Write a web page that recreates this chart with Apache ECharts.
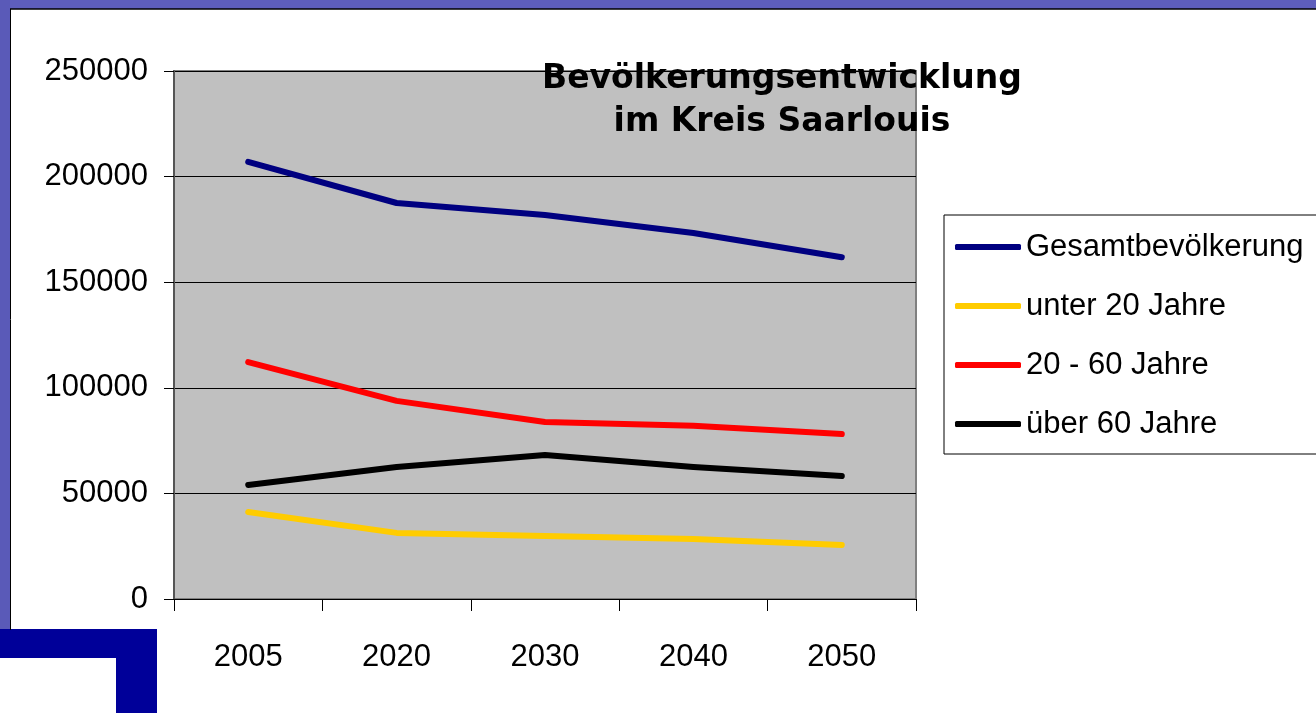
<!DOCTYPE html>
<html><head><meta charset="utf-8">
<script src="https://cdn.jsdelivr.net/npm/echarts@6/dist/echarts.min.js"></script>
<style>html,body{margin:0;padding:0;background:#fff;}#c{width:1316px;height:713px;}</style>
</head><body><div id="c"></div>
<script>
const categories = ['2005','2020','2030','2040','2050'];
const gesamt = [207000, 187500, 181800, 173300, 161800];
const unter20 = [41200, 31300, 29800, 28400, 25600];
const mitte = [112200, 93800, 83800, 82000, 78100];
const ueber60 = [54000, 62500, 68200, 62500, 58200];
const seriesNames = ['Gesamtbevölkerung','unter 20 Jahre','20 - 60 Jahre','über 60 Jahre'];
const colors = ['#000080','#FFCC00','#FF0000','#000000'];
const yTicks = [0, 50000, 100000, 150000, 200000, 250000];

const chart = echarts.init(document.getElementById('c'));
const mk = (name, data, color) => ({
  name, type: 'line', data, symbol: 'none', smooth: false,
  lineStyle: {color, width: 6, cap: 'round', join: 'round'},
  itemStyle: {color}, z: 5
});
chart.setOption({
  animation: false,
  backgroundColor: '#ffffff',
  graphic: [
    {type:'rect', z:-10, shape:{x:0,y:0,width:1316,height:9}, style:{fill:'#5e5ebd'}},
    {type:'rect', z:-10, shape:{x:0,y:0,width:10,height:630}, style:{fill:'#5a5ab8'}},
    {type:'line', z:-9, shape:{x1:10,y1:9,x2:1316,y2:9}, style:{stroke:'#000',lineWidth:1.5}},
    {type:'line', z:-9, shape:{x1:10.5,y1:9,x2:10.5,y2:630}, style:{stroke:'#000',lineWidth:1}},
    {type:'rect', z:-10, shape:{x:0,y:629,width:157,height:29}, style:{fill:'#000099'}},
    {type:'rect', z:-10, shape:{x:116,y:629,width:41,height:84}, style:{fill:'#000099'}}
  ],
  title: {
    text: 'Bevölkerungsentwicklung\nim Kreis Saarlouis',
    left: 777, top: 53, textAlign: 'center',
    textStyle: {fontFamily: 'DejaVu Sans', fontWeight: 'bold', fontSize: 33, color: '#000', lineHeight: 43}
  },
  legend: {
    orient: 'vertical', left: 944, top: 215,
    padding: [14, 40, 12, 11], itemGap: 23,
    itemWidth: 66, itemHeight: 6,
    borderColor: '#000', borderWidth: 1, backgroundColor: '#fff',
    icon: 'roundRect',
    textStyle: {fontFamily: 'Liberation Sans', fontSize: 31, color: '#000', lineHeight: 36},
    data: seriesNames
  },
  grid: {left: 174, top: 71, width: 742, height: 528, show: true, backgroundColor: '#c0c0c0', borderColor: '#808080', borderWidth: 2},
  xAxis: {
    type: 'category', data: categories, boundaryGap: true,
    axisLine: {lineStyle: {color: '#000', width: 1}},
    axisTick: {show: true, length: 12, lineStyle: {color: '#000'}},
    axisLabel: {fontFamily: 'Liberation Sans', fontSize: 31, color: '#000', margin: 43}
  },
  yAxis: {
    type: 'value', min: 0, max: 250000, interval: 50000,
    axisLine: {show: true, lineStyle: {color: '#555', width: 2}},
    axisTick: {show: true, length: 10, inside: false, lineStyle: {color: '#000'}},
    splitLine: {lineStyle: {color: '#000', width: 1}},
    axisLabel: {fontFamily: 'Liberation Sans', fontSize: 31, color: '#000', margin: 26,
      formatter: v => yTicks.includes(v) ? String(v) : ''}
  },
  series: [
    mk(seriesNames[0], gesamt, colors[0]),
    mk(seriesNames[1], unter20, colors[1]),
    mk(seriesNames[2], mitte, colors[2]),
    mk(seriesNames[3], ueber60, colors[3])
  ]
});
</script></body></html>
